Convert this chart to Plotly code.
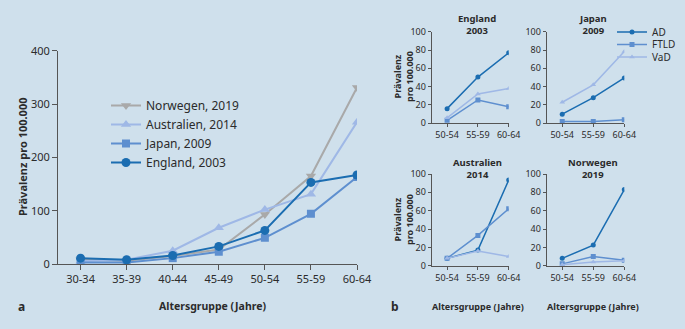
import plotly.graph_objects as go

# ---------------- data ----------------
age_groups_a = ["30-34", "35-39", "40-44", "45-49", "50-54", "55-59", "60-64"]
norwegen_2019 = [8, 6, 15, 27, 93, 165, 331]
australien_2014 = [5, 8, 25, 68, 102, 131, 266]
japan_2009 = [3, 3, 11, 23, 49, 94, 163]
england_2003 = [11, 8, 16, 33, 63, 153, 167]

age_groups_b = ["50-54", "55-59", "60-64"]
england_ad = [16, 50.5, 77]
england_ftld = [3.3, 25.5, 18]
england_vad = [6, 32, 38]
japan_ad = [10, 28, 49.5]
japan_ftld = [2, 2, 4]
japan_vad = [23, 42, 78.5]
australien_ad = [8, 17, 93.5]
australien_ftld = [8, 33, 62]
australien_vad = [8, 16, 10]
norwegen_ad = [8, 22.5, 83]
norwegen_ftld = [2, 10, 6]
norwegen_vad = [1, 4, 5.5]

# ---------------- style ----------------
BG = "#cfe0ec"
C_DARK = "#1b6db1"
C_MED = "#5e8fcf"
C_LIGHT = "#9fb8e6"
C_GRAY = "#a9a9a9"
AXC = "#555555"
TXT = "#2b2b2b"
FONT = "Noto Sans"
W, H = 685, 329

def px_x(p):
    return p / W

def px_y(p):
    return 1 - p / H

fig = go.Figure()

# ---------- panel a ----------
series_a = [
    ("Norwegen, 2019", norwegen_2019, C_GRAY, "triangle-down"),
    ("Australien, 2014", australien_2014, C_LIGHT, "triangle-up"),
    ("Japan, 2009", japan_2009, C_MED, "square"),
    ("England, 2003", england_2003, C_DARK, "circle"),
]
for name, vals, col, sym in series_a:
    fig.add_trace(go.Scatter(
        x=list(range(len(age_groups_a))), y=vals, name=name, mode="lines+markers",
        line=dict(color=col, width=2), marker=dict(symbol=sym, size=9 if sym != "square" else 8, color=col),
        xaxis="x", yaxis="y", legend="legend"))

# ---------- panel b ----------
subs = [
    ("x2", "y2", england_ad, england_ftld, england_vad),
    ("x3", "y3", japan_ad, japan_ftld, japan_vad),
    ("x4", "y4", australien_ad, australien_ftld, australien_vad),
    ("x5", "y5", norwegen_ad, norwegen_ftld, norwegen_vad),
]
for i, (xa, ya, ad, ftld, vad) in enumerate(subs):
    for name, vals, col, sym, lg in [("AD", ad, C_DARK, "circle", "legend2"),
                                     ("FTLD", ftld, C_MED, "square", "legend3"),
                                     ("VaD", vad, C_LIGHT, "triangle-up", "legend4")]:
        fig.add_trace(go.Scatter(
            x=list(range(len(age_groups_b))), y=vals, name=name, mode="lines+markers",
            line=dict(color=col, width=1.5), marker=dict(symbol=sym, size=5, color=col),
            xaxis=xa, yaxis=ya, legend=lg, showlegend=(i == 1)))

def xaxis(domain, rng, labels, anchor, fs, ticklen):
    return dict(domain=domain, range=rng, anchor=anchor, tickmode="array",
                tickvals=list(range(len(labels))), ticktext=labels,
                showline=True, linecolor=AXC, linewidth=1, ticks="outside", ticklen=ticklen,
                tickcolor=AXC, showgrid=False, zeroline=False,
                tickfont=dict(family=FONT, size=fs, color=TXT))

def yaxis(domain, rng, dtick, anchor, fs, ticklen):
    return dict(domain=domain, range=rng, anchor=anchor, dtick=dtick, tick0=0,
                showline=True, linecolor=AXC, linewidth=1, ticks="outside", ticklen=ticklen,
                tickcolor=AXC, showgrid=False, zeroline=False,
                tickfont=dict(family=FONT, size=fs, color=TXT))

xa_dom = [px_x(58), px_x(357)]
ya_dom = [px_y(264), px_y(50.7)]
col1 = [px_x(431.7), px_x(508.7)]
col2 = [px_x(546.7), px_x(624.3)]
row1 = [px_y(123.3), px_y(31.7)]
row2 = [px_y(265.7), px_y(174)]

def small_legend(ypx):
    return dict(x=px_x(612), y=px_y(ypx), xanchor="left", yanchor="middle",
                bgcolor="rgba(0,0,0,0)", font=dict(family=FONT, size=10, color=TXT))

fig.update_layout(
    width=W, height=H, margin=dict(l=0, r=0, t=0, b=0, autoexpand=False),
    paper_bgcolor=BG, plot_bgcolor=BG,
    font=dict(family=FONT, color=TXT),
    xaxis=xaxis(xa_dom, [-0.49, 6], age_groups_a, "y", 11, 5),
    yaxis=yaxis(ya_dom, [0, 400], 100, "x", 11, 5),
    xaxis2=xaxis(col1, [-0.5, 2], age_groups_b, "y2", 9, 3),
    yaxis2=yaxis(row1, [0, 100], 20, "x2", 9, 3),
    xaxis3=xaxis(col2, [-0.5, 2], age_groups_b, "y3", 9, 3),
    yaxis3=yaxis(row1, [0, 100], 20, "x3", 9, 3),
    xaxis4=xaxis(col1, [-0.5, 2], age_groups_b, "y4", 9, 3),
    yaxis4=yaxis(row2, [0, 100], 20, "x4", 9, 3),
    xaxis5=xaxis(col2, [-0.5, 2], age_groups_b, "y5", 9, 3),
    yaxis5=yaxis(row2, [0, 100], 20, "x5", 9, 3),
    legend=dict(x=px_x(106), y=px_y(91), xanchor="left", yanchor="top",
                bgcolor="rgba(0,0,0,0)", font=dict(family=FONT, size=12, color=TXT)),
    legend2=small_legend(32),
    legend3=small_legend(44.5),
    legend4=small_legend(57),
    showlegend=True,
)

ann = []
def add_text(x, y, text, size, bold=True, angle=0):
    ann.append(dict(x=px_x(x), y=px_y(y), xref="paper", yref="paper", showarrow=False,
                    text=("<b>%s</b>" % text) if bold else text, textangle=angle,
                    font=dict(family=FONT, size=size, color=TXT),
                    xanchor="center", yanchor="middle"))

add_text(22, 157, "Prävalenz pro 100.000", 11, angle=-90)
add_text(213, 306, "Altersgruppe (Jahre)", 10.5)
add_text(21, 306, "a", 12)
add_text(395, 306, "b", 12)
add_text(478, 306, "Altersgruppe (Jahre)", 9)
add_text(593, 306, "Altersgruppe (Jahre)", 9)
add_text(477, 25, "England<br>2003", 9.5)
add_text(593, 25, "Japan<br>2009", 9.5)
add_text(477, 168, "Australien<br>2014", 9.5)
add_text(593, 168, "Norwegen<br>2019", 9.5)
add_text(403, 77, "Prävalenz<br>pro 100.000", 9, angle=-90)
add_text(403, 220, "Prävalenz<br>pro 100.000", 9, angle=-90)
fig.update_layout(annotations=ann)

fig.write_html("out.html", config={"displayModeBar": False},
               post_script="document.body.style.margin='0';document.body.style.overflow='hidden';")
